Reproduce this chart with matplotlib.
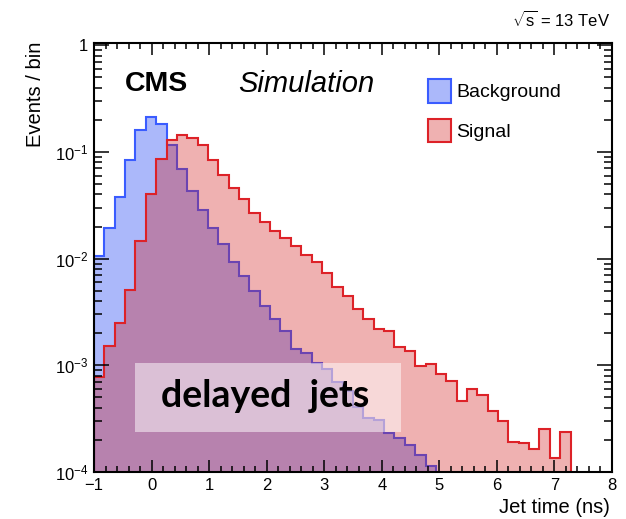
import numpy as np
import matplotlib
matplotlib.use('Agg')
import matplotlib.pyplot as plt
from matplotlib.patches import Rectangle

plt.rcParams['font.family'] = ['Liberation Sans', 'DejaVu Sans']
plt.rcParams['mathtext.fontset'] = 'custom'
plt.rcParams['mathtext.rm'] = 'Liberation Sans'
plt.rcParams['mathtext.it'] = 'Liberation Sans:italic'

# 50 bins of 0.18 ns between -1 and 8 ns
bin_edges = -1 + 0.18 * np.arange(51)

# normalised jet time distributions
background = [0.0105, 0.0192, 0.0376, 0.0835, 0.162, 0.214, 0.184, 0.117, 0.069, 0.0427,
              0.0286, 0.0192, 0.0136, 0.0092, 0.0069, 0.0050, 0.0036, 0.0027, 0.0021, 0.00142,
              0.00130, 0.00106, 0.00092, 0.00069, 0.00057, 0.00041, 0.00032, 0.00031, 0.00023,
              0.00021, 0.00018, 0.000145, 0.000114]
signal = [0.00077, 0.00152, 0.00249, 0.00513, 0.0147, 0.0402, 0.0859, 0.129, 0.144, 0.1355,
          0.115, 0.0845, 0.0603, 0.0457, 0.0361, 0.027, 0.0219, 0.0181, 0.0155, 0.0131,
          0.0107, 0.0092, 0.0074, 0.0054, 0.0045, 0.0034, 0.0027, 0.0022, 0.0021, 0.00147,
          0.00136, 0.00098, 0.00102, 0.00082, 0.00071, 0.00046, 0.00060, 0.00053, 0.00037,
          0.00030, 0.00019, 0.000186, 0.000164, 0.000253, 0.000135, 0.000235]

y_ticks = [1e-4, 1e-3, 1e-2, 1e-1, 1]
y_tick_labels = ['$10^{-4}$', '$10^{-3}$', '$10^{-2}$', '$10^{-1}$', '1']

fig = plt.figure(figsize=(6.26, 5.19), dpi=100)
ax = fig.add_axes([0.1502, 0.0906, 0.8274, 0.8265])

# background first, signal drawn on top of it
ax.stairs(background, bin_edges[:len(background) + 1], baseline=1e-7, fill=True,
          facecolor=(0.0, 0.16, 0.94, 0.33), edgecolor='#3a5cff', linewidth=1.5,
          label='Background')
ax.stairs(signal, bin_edges[:len(signal) + 1], baseline=1e-7, fill=True,
          facecolor=(0.82, 0.08, 0.08, 0.33), edgecolor='#dd2228', linewidth=1.5,
          label='Signal')

ax.set_yscale('log')
ax.set_xlim(-1, 8)
ax.set_ylim(1e-4, 1.05)
ax.set_xticks(range(-1, 9))
ax.set_xticks(np.arange(-1, 8.01, 0.2), minor=True)
ax.set_yticks(y_ticks)
ax.set_yticklabels(y_tick_labels)

# ROOT style: ticks inside on every side
ax.tick_params(which='both', direction='in', top=True, right=True, width=1.1,
               labelsize=12, pad=4)
ax.tick_params(axis='x', which='major', length=8.5)
ax.tick_params(axis='x', which='minor', length=4.3)
ax.tick_params(axis='y', which='major', length=10.5)
ax.tick_params(axis='y', which='minor', length=5.5)
for spine in ax.spines.values():
    spine.set_linewidth(1.5)

# axis titles sit at the ends, like ROOT
fig.text(0.056, 0.919, 'Events / bin', rotation=90, ha='center', va='top', fontsize=14.5)
fig.text(0.975, 0.023, 'Jet time (ns)', ha='right', va='center', fontsize=14.5)
fig.text(0.974, 0.962, r'$\sqrt{\mathrm{s}}$ = 13 TeV', ha='right', va='center', fontsize=12)

ax.text(0.06, 0.905, 'CMS', transform=ax.transAxes, fontsize=20.5, fontweight='bold',
        ha='left', va='center')
ax.text(0.278, 0.905, 'Simulation', transform=ax.transAxes, fontsize=21,
        fontstyle='italic', ha='left', va='center')

ax.legend(loc='upper left', bbox_to_anchor=(0.645, 0.915), frameon=False, fontsize=14,
          handlelength=1.2, handleheight=1.45, handletextpad=0.25, labelspacing=0.85,
          borderpad=0, borderaxespad=0)

# highlighted label box on top of the histograms
ax.add_patch(Rectangle((0.079, 0.093), 0.514, 0.161, transform=ax.transAxes,
                       facecolor='white', alpha=0.5, edgecolor='none', zorder=5))
ax.text(0.33, 0.178, 'delayed  jets', transform=ax.transAxes, fontsize=27,
        fontweight='bold', family='Lato', ha='center', va='center', zorder=6)

fig.savefig('out.png', dpi=100)
plt.close(fig)
